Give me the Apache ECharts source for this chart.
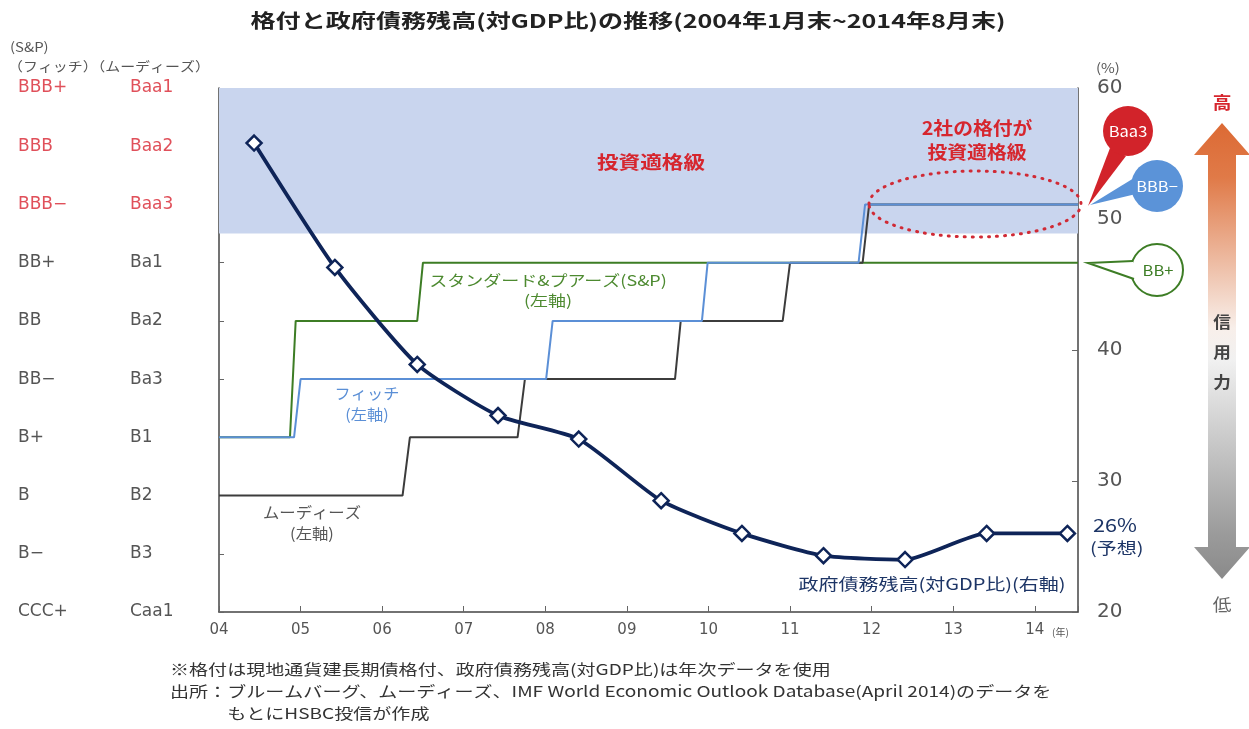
<!DOCTYPE html>
<html>
<head>
<meta charset="utf-8">
<script src="https://cdn.jsdelivr.net/npm/echarts@6/dist/echarts.min.js"></script>
<style>
  html, body { margin: 0; padding: 0; background: #fff; }
  #chart { width: 1249px; height: 729px; }
</style>
</head>
<body>
<div id="chart"></div>
<script>
// rating scale, index 0 = lowest
var spFitchLabels = ['CCC+', 'B−', 'B', 'B+', 'BB−', 'BB', 'BB+', 'BBB−', 'BBB', 'BBB+'];
var moodysLabels = ['Caa1', 'B3', 'B2', 'B1', 'Ba3', 'Ba2', 'Ba1', 'Baa3', 'Baa2', 'Baa1'];
var investmentGradeFrom = 6.5;

var xStart = 2004;
var xEnd = 2014.53;   // end of Aug 2014

// rating history (date as fractional year, rating index)
var spDates = [2004, 2004.87, 2004.94, 2006.43, 2006.50, xEnd];
var spRatings = [3, 3, 5, 5, 6, 6];

var moodysDates = [2004, 2006.25, 2006.34, 2007.66, 2007.75, 2009.59, 2009.66, 2010.91, 2011.00, 2011.89, 2011.97, xEnd];
var moodysRatings = [2, 2, 3, 3, 4, 4, 5, 5, 6, 6, 7, 7];

var fitchDates = [2004, 2004.92, 2005.00, 2008.01, 2008.09, 2009.92, 2009.99, 2011.84, 2011.92, xEnd];
var fitchRatings = [3, 3, 4, 4, 5, 5, 6, 6, 7, 7];

// government debt / GDP (%), annual
var debtYears = [2004.43, 2005.42, 2006.43, 2007.42, 2008.41, 2009.42, 2010.41, 2011.41, 2012.41, 2013.41, 2014.40];
var debtValues = [55.8, 46.3, 38.9, 35.0, 33.2, 28.5, 26.0, 24.3, 24.0, 26.0, 26.0];

function zip(a, b) {
  return a.map(function (v, i) { return [v, b[i]]; });
}

var jp = '"Noto Sans CJK JP", sans-serif';
var lat = '"DejaVu Sans", sans-serif';
var red = '#d6262e';
var green = '#3d7d25';
var blue = '#5b8fd6';
var navy = '#0e2458';

// centred text, stretched a little wider like the original artwork
function label(x, y, text, color, font, sx, extra) {
  var style = { text: text, fill: color, font: font, textAlign: 'center', textVerticalAlign: 'middle' };
  for (var k in extra || {}) style[k] = extra[k];
  return { type: 'text', x: x, y: y, scaleX: sx, z: 30, style: style };
}

var myChart = echarts.init(document.getElementById('chart'));
var option = {
  animation: false,
  textStyle: { fontFamily: jp },
  grid: { left: 219, right: 171, top: 88, bottom: 117 },
  xAxis: {
    type: 'value',
    min: xStart,
    max: xEnd,
    interval: 1,
    splitLine: { show: false },
    axisLine: { lineStyle: { color: '#444', width: 1.5 } },
    axisTick: { inside: true, length: 6, lineStyle: { color: '#666' } },
    axisLabel: {
      color: '#555', fontSize: 15, margin: 11, fontFamily: lat,
      formatter: function (v) { return Number.isInteger(v) ? String(v).slice(2) : ''; }
    }
  },
  yAxis: [
    {
      type: 'value',
      min: 0,
      max: 9,
      interval: 1,
      splitLine: { show: false },
      axisLine: { show: true, lineStyle: { color: '#444', width: 1.5 } },
      axisTick: { show: true, inside: true, length: 5, lineStyle: { color: '#666' } },
      axisLabel: {
        align: 'left',
        margin: 201,
        formatter: function (v) {
          var hi = v >= 7 ? 'r' : '';
          return '{a' + hi + '|' + spFitchLabels[v] + '}{b' + hi + '|' + moodysLabels[v] + '}';
        },
        rich: {
          a: { width: 112, fontSize: 17, color: '#555', fontFamily: lat },
          b: { fontSize: 17, color: '#555', fontFamily: lat },
          ar: { width: 112, fontSize: 17, color: '#e0505a', fontFamily: lat },
          br: { fontSize: 17, color: '#e0505a', fontFamily: lat }
        }
      }
    },
    {
      type: 'value',
      position: 'right',
      min: 20,
      max: 60,
      interval: 10,
      splitLine: { show: false },
      axisLine: { show: true, lineStyle: { color: '#444', width: 1.5 } },
      axisTick: { show: true, inside: true, length: 6, lineStyle: { color: '#666' } },
      axisLabel: { color: '#555', fontSize: 20, margin: 19, fontFamily: lat }
    }
  ],
  series: [
    {
      name: 'S&P',
      type: 'line',
      data: zip(spDates, spRatings),
      symbol: 'none',
      lineStyle: { color: green, width: 2 },
      markArea: {
        silent: true,
        itemStyle: { color: '#c9d5ee' },
        data: [[{ yAxis: investmentGradeFrom }, { yAxis: 9 }]]
      }
    },
    {
      name: 'ムーディーズ',
      type: 'line',
      data: zip(moodysDates, moodysRatings),
      symbol: 'none',
      lineStyle: { color: '#3c3c3c', width: 2 }
    },
    {
      name: 'フィッチ',
      type: 'line',
      data: zip(fitchDates, fitchRatings),
      symbol: 'none',
      lineStyle: { color: blue, width: 2 }
    },
    {
      name: '政府債務残高',
      type: 'line',
      yAxisIndex: 1,
      data: zip(debtYears, debtValues),
      smooth: 0.2,
      symbol: 'diamond',
      symbolSize: 15,
      lineStyle: { color: navy, width: 3.8 },
      itemStyle: { color: '#fff', borderColor: navy, borderWidth: 2.5 },
      z: 5
    }
  ],
  graphic: [
    // title
    label(628, 21, '格付と政府債務残高(対GDP比)の推移(2004年1月末~2014年8月末)', '#222', 'bold 19px ' + jp, 1.32),

    // column headers
    { type: 'text', x: 10, y: 47, scaleX: 1.15, style: { text: '(S&P)', fill: '#555', font: '13px ' + jp, textVerticalAlign: 'middle' } },
    { type: 'text', x: 8, y: 66, scaleX: 1.15, style: { text: '（フィッチ）（ムーディーズ）', fill: '#555', font: '13px ' + jp, textVerticalAlign: 'middle' } },
    { type: 'text', x: 1096, y: 68, scaleX: 1.15, style: { text: '(%)', fill: '#555', font: '13px ' + jp, textVerticalAlign: 'middle' } },
    { type: 'text', x: 1052, y: 632, style: { text: '(年)', fill: '#555', font: '10px ' + jp, textVerticalAlign: 'middle' } },

    // annotations inside plot
    label(651, 162, '投資適格級', red, 'bold 18px ' + jp, 1.2),
    label(977, 140, '2社の格付が\n投資適格級', red, 'bold 18px ' + jp, 1.1, { lineHeight: 24 }),
    {
      type: 'ellipse', z: 10,
      shape: { cx: 975, cy: 204, rx: 106, ry: 33 },
      style: { fill: 'none', stroke: '#d02a35', lineWidth: 3, lineDash: [1, 7], lineCap: 'round' }
    },
    label(548, 290, 'スタンダード&プアーズ(S&P)\n(左軸)', '#4d8a30', '15px ' + jp, 1.2, { lineHeight: 20 }),
    label(367, 404, 'フィッチ\n(左軸)', blue, '15px ' + jp, 1.08, { lineHeight: 21 }),
    label(312, 523, 'ムーディーズ\n(左軸)', '#555', '15px ' + jp, 1.09, { lineHeight: 21 }),
    label(932, 584, '政府債務残高(対GDP比)(右軸)', '#1d3566', '16px ' + jp, 1.25),
    { type: 'text', x: 1093, y: 525, scaleX: 1.2, style: { text: '26%', fill: '#1d3566', font: '18px ' + jp, textVerticalAlign: 'middle' } },
    { type: 'text', x: 1090, y: 548, scaleX: 1.25, style: { text: '(予想)', fill: '#1d3566', font: '16px ' + jp, textVerticalAlign: 'middle' } },

    // callout bubbles
    { type: 'polygon', z: 20, shape: { points: [[1110, 148], [1126, 156], [1088, 206]] }, style: { fill: '#d2232a' } },
    { type: 'circle', z: 21, shape: { cx: 1128, cy: 131, r: 25 }, style: { fill: '#d2232a' } },
    { type: 'text', z: 22, x: 1128, y: 131, scaleX: 1.1, style: { text: 'Baa3', fill: '#fff', font: '15px ' + jp, textAlign: 'center', textVerticalAlign: 'middle' } },

    { type: 'polygon', z: 20, shape: { points: [[1134, 178], [1136, 194], [1090, 205]] }, style: { fill: '#5b93d8' } },
    { type: 'circle', z: 21, shape: { cx: 1157, cy: 186, r: 26 }, style: { fill: '#5b93d8' } },
    { type: 'text', z: 22, x: 1157, y: 186, scaleX: 1.1, style: { text: 'BBB−', fill: '#fff', font: '15px ' + jp, textAlign: 'center', textVerticalAlign: 'middle' } },

    { type: 'circle', z: 20, shape: { cx: 1157, cy: 270, r: 26 }, style: { fill: '#fff', stroke: green, lineWidth: 2 } },
    { type: 'polygon', z: 21, shape: { points: [[1133, 261], [1088, 263], [1134, 279]] }, style: { fill: '#fff' } },
    { type: 'polyline', z: 22, shape: { points: [[1133, 261], [1088, 263], [1134, 279]] }, style: { stroke: green, lineWidth: 2, fill: 'none' } },
    { type: 'text', z: 23, x: 1158, y: 270, scaleX: 1.1, style: { text: 'BB+', fill: green, font: '15px ' + jp, textAlign: 'center', textVerticalAlign: 'middle' } },

    // credit strength arrow
    {
      type: 'polygon',
      shape: {
        points: [[1222, 123], [1250, 155], [1236, 155], [1236, 547], [1250, 547], [1222, 579],
                 [1194, 547], [1208, 547], [1208, 155], [1194, 155]]
      },
      style: {
        fill: {
          type: 'linear', x: 0, y: 0, x2: 0, y2: 1,
          colorStops: [
            { offset: 0, color: '#dc6a34' },
            { offset: 0.12, color: '#e07a48' },
            { offset: 0.45, color: '#f8efea' },
            { offset: 0.52, color: '#f1f1f1' },
            { offset: 0.9, color: '#9b9b9b' },
            { offset: 1, color: '#8a8a8a' }
          ]
        }
      }
    },
    label(1222, 103, '高', red, 'bold 17px ' + jp, 1.1),
    label(1222, 352, '信\n用\n力', '#444', 'bold 16px ' + jp, 1.1, { lineHeight: 30 }),
    label(1222, 605, '低', '#666', '17px ' + jp, 1.1),

    // footnotes
    {
      type: 'text', x: 170, y: 658, scaleX: 1.27,
      style: {
        text: '※格付は現地通貨建長期債格付、政府債務残高(対GDP比)は年次データを使用\n出所：ブルームバーグ、ムーディーズ、IMF World Economic Outlook Database(April 2014)のデータを\n　　　もとにHSBC投信が作成',
        fill: '#333', font: '15px ' + jp, lineHeight: 22
      }
    }
  ]
};
myChart.setOption(option);
</script>
</body>
</html>
